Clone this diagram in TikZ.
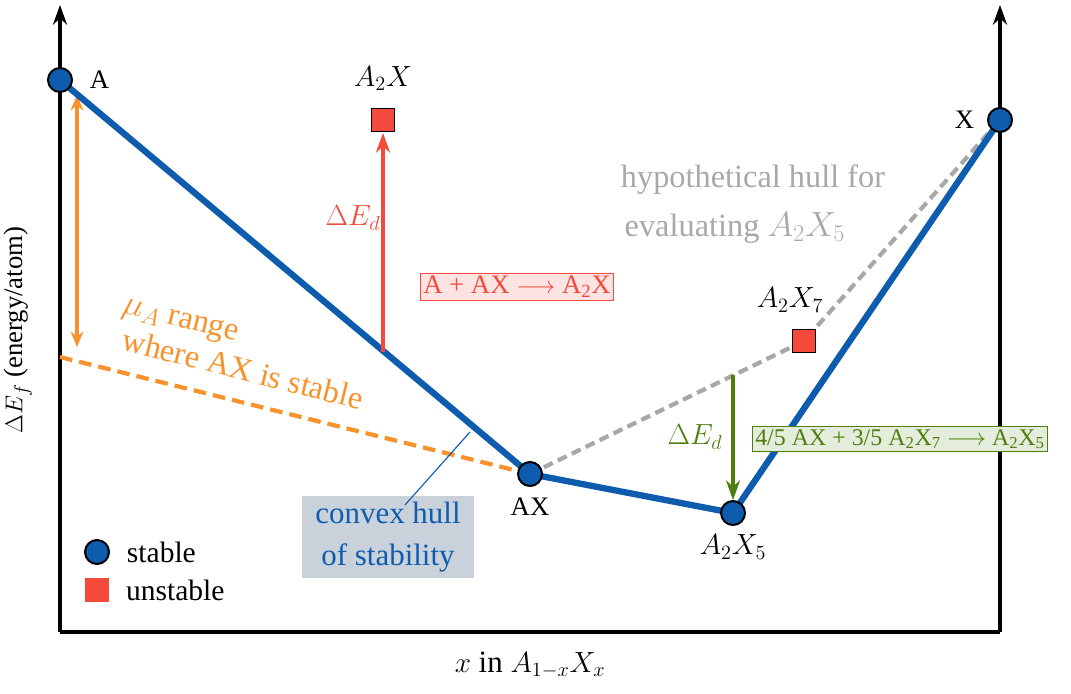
\documentclass[tikz,border=0pt]{standalone}
\usepackage{fontspec}
\setmainfont{Liberation Serif}
\usepackage{amsmath}
\usetikzlibrary{arrows.meta,positioning}
\definecolor{hullblue}{HTML}{0E5CAD}
\definecolor{muorange}{HTML}{F7922C}
\definecolor{unred}{HTML}{F44A3C}
\definecolor{dgreen}{HTML}{4E7F0E}
\definecolor{hypgray}{HTML}{A8A8A8}
\definecolor{boxgray}{HTML}{C9D1DB}
\tikzset{
  stablept/.style={circle, draw=black, fill=hullblue, line width=1.4pt, minimum size=0.6cm, inner sep=0pt},
  unstablept/.style={rectangle, draw=black, fill=unred, line width=0.8pt, minimum size=0.58cm, inner sep=0pt},
  hull/.style={hullblue, line width=4.5pt},
  lbl/.style={font=\fontsize{19}{22}\selectfont},
  big/.style={font=\fontsize{22}{26}\selectfont},
  rxn/.style={lbl, draw, line width=0.6pt, inner sep=2pt}
}
\begin{document}
\begin{tikzpicture}[x=0.025cm, y=-0.025cm]
  \useasboundingbox (0,0) rectangle (1071,694);
  % axes
  \coordinate (o1) at (60,632);
  \coordinate (o2) at (1000,632);
  \coordinate (t1) at (60,5);
  \coordinate (t2) at (1000,5);
  \draw[line width=2.2pt, -{Stealth[length=14pt,width=10pt]}] (o1) -- (t1);
  \draw[line width=2.2pt, -{Stealth[length=14pt,width=10pt]}] (o2) -- (t2);
  \draw[line width=2.2pt] (o1) -- (o2);
  \node[lbl, rotate=90] (ylab) at (18,330) {$\Delta E_f$ (energy/atom)};
  \node[big] (xlab) at (530,665) {$x$ in $A_{1-x}X_x$};
  % helper points
  \coordinate (mu0) at (60,357);
  \coordinate (a2x7p) at (804,341);
  \coordinate (rb) at (383,352);
  \coordinate (gt) at (733,375);
  % orange range
  \draw[muorange, line width=3pt, dash pattern=on 9pt off 5pt] (mu0) -- (530,474);
  \draw[muorange, line width=2.2pt, {Stealth[length=11pt,width=9pt]}-{Stealth[length=11pt,width=9pt]}] (77,95) -- (77,347);
  \node[muorange, rotate=-14, font=\fontsize{23}{27}\selectfont] (mur) at (180,322) {$\mu_A$ range};
  \node[muorange, rotate=-14, font=\fontsize{23}{27}\selectfont] (muw) at (243,369) {where AX is stable};
  % hypothetical hull
  \draw[hypgray, line width=3pt, dash pattern=on 7pt off 4pt] (530,474) -- (a2x7p) -- (1000,120);
  \node[hypgray, font=\fontsize{23}{27}\selectfont] (hyp1) at (753,180) {hypothetical hull for};
  \node[hypgray, font=\fontsize{23}{27}\selectfont] (hyp2) at (735,228) {evaluating $A_2X_5$};
  % convex hull
  \draw[hull, line join=round] (60,80) -- (530,474) -- (733,513) -- (1000,120);
  \node[fill=boxgray, text=hullblue, align=center, minimum width=4.3cm, inner sep=4pt, font=\fontsize{22}{30}\selectfont] (cbox) at (388,537) {convex hull\\of stability};
  \draw[hullblue, line width=0.8pt] (405,505) -- (470,432);
  % red decomposition
  \draw[unred, line width=3pt, -{Stealth[length=14pt,width=10pt]}] (rb) -- (383,133);
  \node[big, unred] (rde) at (353,218) {$\Delta E_d$};
  \node[rxn, draw=unred, fill=unred!15, text=unred] (rrx) at (517,287) {A + AX $\longrightarrow$ A\textsubscript{2}X};
  % green decomposition
  \draw[dgreen, line width=3pt, -{Stealth[length=14pt,width=10pt]}] (gt) -- (733,500);
  \node[big, dgreen] (gde) at (695,437) {$\Delta E_d$};
  \node[rxn, draw=dgreen, fill=dgreen!15, text=dgreen, font=\fontsize{17}{20}\selectfont] (grx) at (900,439) {4/5 AX + 3/5 A\textsubscript{2}X\textsubscript{7} $\longrightarrow$ A\textsubscript{2}X\textsubscript{5}};
  % points
  \node[stablept] (A) at (60,80) {};
  \node[lbl, right=0.3cm of A] (Al) {A};
  \node[stablept] (X) at (1000,120) {};
  \node[lbl, left=0.2cm of X] (Xl) {X};
  \node[stablept] (AX) at (530,474) {};
  \node[lbl, below=0.15cm of AX] (AXl) {AX};
  \node[stablept] (A2X5) at (733,513) {};
  \node[big, below=0.1cm of A2X5] (A2X5l) {$A_2X_5$};
  \node[unstablept] (A2X) at (383,120) {};
  \node[big, above=0.3cm of A2X] (A2Xl) {$A_2X$};
  \node[unstablept] (A2X7) at (a2x7p) {};
  \node[big] (A2X7l) at (790,300) {$A_2X_7$};
  % legend
  \node[stablept] (ls) at (97,552) {};
  \node[lbl, right=0.3cm of ls, font=\fontsize{21}{24}\selectfont] (lst) {stable};
  \node[unstablept, draw=none] (lu) at (97,590) {};
  \node[lbl, right=0.3cm of lu, font=\fontsize{21}{24}\selectfont] (lut) {unstable};
\end{tikzpicture}
\end{document}
